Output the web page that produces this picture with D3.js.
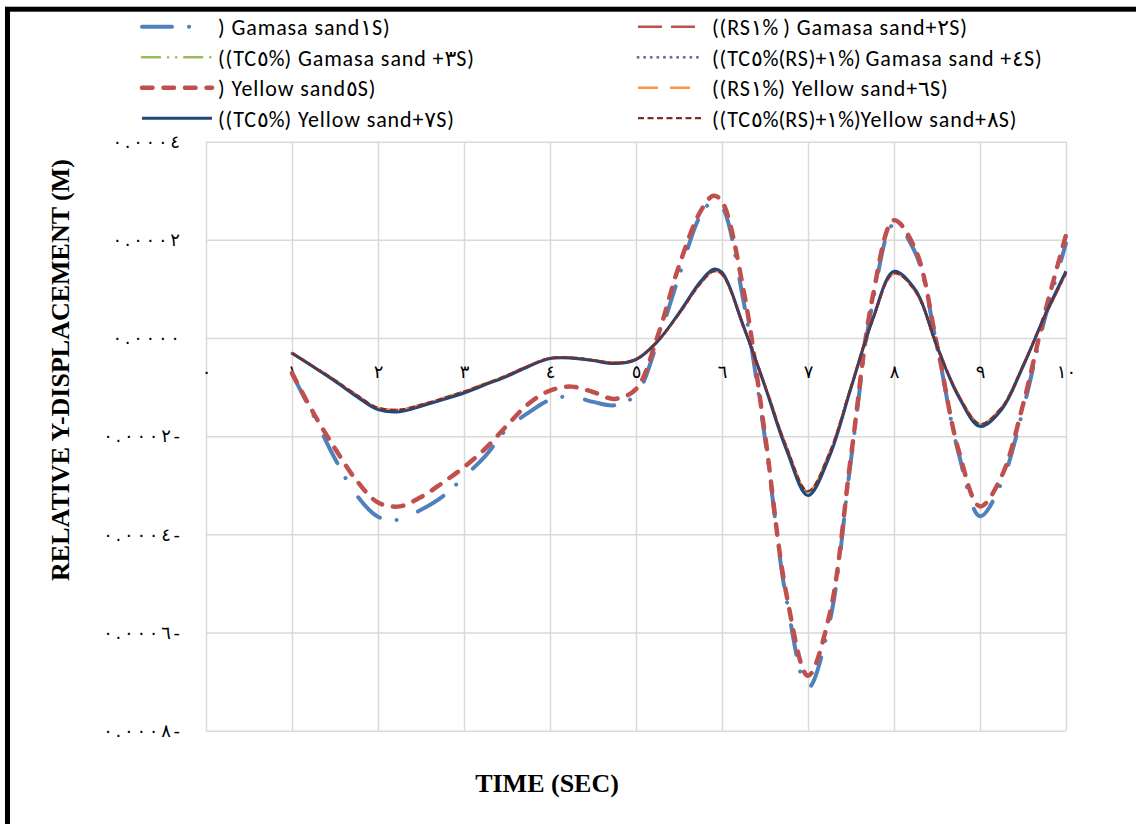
<!DOCTYPE html>
<html>
<head>
<meta charset="utf-8">
<script src="https://cdn.jsdelivr.net/npm/d3@7"></script>
<style>
  body { margin: 0; background: #fff; }
</style>
</head>
<body>
<div id="chart"></div>
<script>
const time = [1, 1.25, 1.5, 1.75, 2, 2.25, 2.5, 2.75, 3, 3.25, 3.5, 3.75, 4, 4.25, 4.5, 4.75, 5, 5.25, 5.5, 5.75, 5.9,
              6, 6.25, 6.5, 6.75, 7, 7.25, 7.5, 7.75, 8, 8.25, 8.5, 8.75, 9, 9.25, 9.5, 9.75, 10];

// relative y-displacement (m)
const s1 = [-73e-6, -158e-6, -246e-6, -320e-6, -364e-6, -370e-6, -350e-6, -323e-6, -283e-6, -240e-6,
            -185e-6, -152e-6, -126e-6, -119e-6, -130e-6, -137e-6, -115e-6, -8e-6, 126e-6, 250e-6,
            279e-6, 268e-6, 75e-6, -205e-6, -533e-6, -713e-6, -580e-6, -248e-6, 71e-6, 232e-6,
            173e-6, -17e-6, -234e-6, -363e-6, -295e-6, -146e-6, 37e-6, 193e-6];
const s2 = [-30e-6, -58e-6, -86e-6, -116e-6, -143e-6, -146e-6, -136e-6, -123e-6, -109e-6, -93e-6,
            -76e-6, -56e-6, -41e-6, -40e-6, -45e-6, -50e-6, -43e-6, -6e-6, 50e-6, 112e-6,
            136e-6, 130e-6, 23e-6, -96e-6, -222e-6, -313e-6, -234e-6, -99e-6, 36e-6, 132e-6,
            95e-6, -16e-6, -116e-6, -175e-6, -142e-6, -56e-6, 42e-6, 132e-6];
const s3 = [-31e-6, -58e-6, -86e-6, -117e-6, -143e-6, -147e-6, -136e-6, -123e-6, -110e-6, -93e-6,
            -76e-6, -57e-6, -41e-6, -40e-6, -45e-6, -51e-6, -43e-6, -6e-6, 50e-6, 113e-6,
            137e-6, 131e-6, 24e-6, -97e-6, -223e-6, -314e-6, -236e-6, -99e-6, 37e-6, 133e-6,
            96e-6, -16e-6, -117e-6, -176e-6, -143e-6, -56e-6, 43e-6, 133e-6];
const s4 = [-31e-6, -58e-6, -87e-6, -117e-6, -144e-6, -147e-6, -137e-6, -124e-6, -110e-6, -94e-6,
            -77e-6, -57e-6, -41e-6, -40e-6, -45e-6, -51e-6, -43e-6, -7e-6, 50e-6, 112e-6,
            137e-6, 131e-6, 23e-6, -97e-6, -224e-6, -314e-6, -236e-6, -100e-6, 36e-6, 133e-6,
            96e-6, -17e-6, -117e-6, -177e-6, -143e-6, -57e-6, 43e-6, 133e-6];
const s5 = [-71e-6, -153e-6, -225e-6, -290e-6, -335e-6, -343e-6, -324e-6, -295e-6, -263e-6, -225e-6,
            -178e-6, -134e-6, -107e-6, -99e-6, -110e-6, -124e-6, -104e-6, 3e-6, 147e-6, 258e-6,
            290e-6, 278e-6, 98e-6, -197e-6, -523e-6, -688e-6, -564e-6, -241e-6, 82e-6, 240e-6,
            180e-6, -14e-6, -228e-6, -343e-6, -282e-6, -136e-6, 48e-6, 210e-6];
const s6 = [-30e-6, -58e-6, -87e-6, -117e-6, -143e-6, -147e-6, -137e-6, -124e-6, -110e-6, -93e-6,
            -77e-6, -57e-6, -41e-6, -40e-6, -45e-6, -51e-6, -43e-6, -7e-6, 50e-6, 112e-6,
            136e-6, 131e-6, 23e-6, -97e-6, -223e-6, -313e-6, -235e-6, -100e-6, 36e-6, 132e-6,
            95e-6, -16e-6, -116e-6, -176e-6, -142e-6, -57e-6, 43e-6, 133e-6];
const s7 = [-31e-6, -59e-6, -88e-6, -119e-6, -146e-6, -150e-6, -139e-6, -126e-6, -112e-6, -95e-6,
            -78e-6, -58e-6, -42e-6, -41e-6, -46e-6, -52e-6, -44e-6, -7e-6, 51e-6, 115e-6,
            140e-6, 134e-6, 24e-6, -99e-6, -228e-6, -321e-6, -241e-6, -102e-6, 37e-6, 136e-6,
            98e-6, -17e-6, -119e-6, -180e-6, -146e-6, -58e-6, 44e-6, 136e-6];
const s8 = [-31e-6, -58e-6, -86e-6, -116e-6, -142e-6, -146e-6, -136e-6, -123e-6, -109e-6, -93e-6,
            -76e-6, -57e-6, -41e-6, -40e-6, -45e-6, -51e-6, -43e-6, -7e-6, 49e-6, 111e-6,
            136e-6, 130e-6, 23e-6, -97e-6, -222e-6, -312e-6, -234e-6, -99e-6, 36e-6, 132e-6,
            95e-6, -17e-6, -116e-6, -175e-6, -142e-6, -56e-6, 43e-6, 132e-6];

const seriesNames = [
  ") Gamasa sand١S)",
  "((RS١% ) Gamasa sand+٢S)",
  "((TC٥%) Gamasa sand +٣S)",
  "((TC٥%(RS)+١%) Gamasa sand +٤S)",
  ") Yellow sand٥S)",
  "((RS١%) Yellow sand+٦S)",
  "((TC٥%) Yellow sand+٧S)",
  "((TC٥%(RS)+١%)Yellow sand+٨S)"
];
const seriesValues = [s1, s2, s3, s4, s5, s6, s7, s8];

const xTicks = [0, 1, 2, 3, 4, 5, 6, 7, 8, 9, 10];
const xTickLabels = ["٠", "١", "٢", "٣", "٤", "٥", "٦", "٧", "٨", "٩", "١٠"];
const yTicks = [0.0004, 0.0002, 0, -0.0002, -0.0004, -0.0006, -0.0008];
const yTickLabels = ["٠.٠٠٠٤", "٠.٠٠٠٢", "٠.٠٠٠٠", "٠.٠٠٠٢-", "٠.٠٠٠٤-", "٠.٠٠٠٦-", "٠.٠٠٠٨-"];

// line look of each series (Excel style dashes)
const styles = [
  {color: "#4f81bd", width: 4,   dash: "30,17,0.1,23", cap: "round"},
  {color: "#c0504d", width: 2.5, dash: "24,9",         cap: "butt"},
  {color: "#9bbb59", width: 2.5, dash: "18,8,0.1,8,0.1,8", cap: "round"},
  {color: "#8064a2", width: 3,   dash: "0.1,6.5",      cap: "round"},
  {color: "#c0504d", width: 4.5, dash: "10.5,11",      cap: "round"},
  {color: "#f79646", width: 2.5, dash: "20,12",        cap: "butt"},
  {color: "#1f497d", width: 3,   dash: null,           cap: "butt"},
  {color: "#7f2d2b", width: 2.25, dash: "6,3.5",       cap: "butt"}
];

const W = 1136, H = 824;
const plot = {left: 206, right: 1066, top: 141.7, bottom: 730.7};
const arabicFont = "'DejaVu Sans', sans-serif";
const legendFont = "Carlito, Lato, 'DejaVu Sans', sans-serif";

const svg = d3.select("#chart").append("svg")
    .attr("width", W)
    .attr("height", H);

const x = d3.scaleLinear().domain([0, 10]).range([plot.left, plot.right]);
const y = d3.scaleLinear().domain([-0.0008, 0.0004]).range([plot.bottom, plot.top]);

// gridlines
svg.append("g")
    .attr("transform", `translate(0,${plot.bottom})`)
    .call(d3.axisBottom(x).tickValues(xTicks).tickSize(-(plot.bottom - plot.top)).tickFormat(""))
    .call(g => g.select(".domain").remove())
    .selectAll("line").attr("stroke", "#d9d9d9").attr("stroke-width", 1.5);
svg.append("g")
    .attr("transform", `translate(${plot.left},0)`)
    .call(d3.axisLeft(y).tickValues(yTicks).tickSize(-(plot.right - plot.left)).tickFormat(""))
    .call(g => g.select(".domain").remove())
    .selectAll("line").attr("stroke", "#d9d9d9").attr("stroke-width", 1.5);

// tick labels
const xAxis = svg.append("g")
    .attr("transform", `translate(0,${y(0)})`)
    .call(d3.axisBottom(x).tickValues(xTicks).tickSize(0).tickPadding(27)
      .tickFormat((d, i) => xTickLabels[i]));
xAxis.select(".domain").remove();
xAxis.selectAll("text")
    .attr("font-family", arabicFont).attr("font-size", 18).attr("fill", "#000")
    .style("direction", "ltr").style("unicode-bidi", "bidi-override");

const yAxis = svg.append("g")
    .attr("transform", `translate(${plot.left},0)`)
    .call(d3.axisLeft(y).tickValues(yTicks).tickSize(0).tickPadding(26)
      .tickFormat((d, i) => yTickLabels[i]));
yAxis.select(".domain").remove();
// letter-spacing is ignored for arabic digits, so spread the characters with tspans
yAxis.selectAll("text")
    .attr("font-family", arabicFont).attr("font-size", 18).attr("fill", "#000")
    .style("direction", "ltr").style("unicode-bidi", "bidi-override")
    .each(function(d, i) {
      const t = d3.select(this);
      t.text(null);
      Array.from(yTickLabels[i]).forEach((ch, k) => {
        t.append("tspan").attr("dx", k ? 2.7 : 0).text(ch);
      });
    });

// series
const line = d3.line()
    .x((d, i) => x(time[i]))
    .y(d => y(d))
    .curve(d3.curveCatmullRom.alpha(0.5));

seriesValues.forEach((vals, i) => {
  const st = styles[i];
  svg.append("path")
      .datum(vals)
      .attr("fill", "none")
      .attr("stroke", st.color)
      .attr("stroke-width", st.width)
      .attr("stroke-linecap", st.cap)
      .attr("stroke-dasharray", st.dash)
      .attr("d", line);
});

// legend, two columns
const legendCols = [{lx: 142, len: 70, tx: 218}, {lx: 638, len: 64, tx: 712}];
const legendTop = 26.7, legendStep = 30.5;
seriesNames.forEach((name, i) => {
  const c = legendCols[i % 2];
  const ly = legendTop + Math.floor(i / 2) * legendStep;
  const st = styles[i];
  svg.append("line")
      .attr("x1", c.lx).attr("x2", c.lx + c.len)
      .attr("y1", ly).attr("y2", ly)
      .attr("stroke", st.color)
      .attr("stroke-width", st.width)
      .attr("stroke-linecap", st.cap)
      .attr("stroke-dasharray", st.dash);
  svg.append("text")
      .attr("x", c.tx).attr("y", ly + 1)
      .attr("dominant-baseline", "central")
      .attr("font-family", legendFont)
      .attr("font-size", 22)
      .attr("letter-spacing", 0.9)
      .attr("fill", "#000")
      .style("direction", "ltr").style("unicode-bidi", "bidi-override")
      .text(name);
});

// axis titles
svg.append("text")
    .attr("x", 547).attr("y", 783)
    .attr("text-anchor", "middle")
    .attr("dominant-baseline", "central")
    .attr("font-family", "'Liberation Serif', 'Times New Roman', serif")
    .attr("font-weight", "bold")
    .attr("font-size", 26)
    .text("TIME (SEC)");

svg.append("text")
    .attr("transform", "translate(60,370) rotate(-90)")
    .attr("text-anchor", "middle")
    .attr("dominant-baseline", "central")
    .attr("font-family", "'Liberation Serif', 'Times New Roman', serif")
    .attr("font-weight", "bold")
    .attr("font-size", 26)
    .text("RELATIVE Y-DISPLACEMENT (M)");

// outer frame (only the top and left edges fall inside the picture)
svg.append("rect")
    .attr("x", 7.5).attr("y", 9.2)
    .attr("width", W + 20).attr("height", H + 20)
    .attr("fill", "none")
    .attr("stroke", "#000")
    .attr("stroke-width", 5);
</script>
</body>
</html>
